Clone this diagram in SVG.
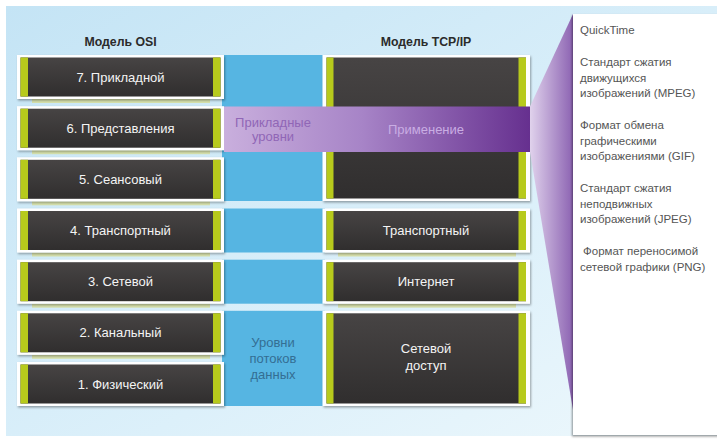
<svg xmlns="http://www.w3.org/2000/svg" width="717" height="441" viewBox="0 0 717 441">
<defs>
  <linearGradient id="bg" x1="0" y1="0" x2="1" y2="1">
    <stop offset="0" stop-color="#c4e4f5"/>
    <stop offset="0.6" stop-color="#dcf0fa"/>
    <stop offset="1" stop-color="#eef8fc"/>
  </linearGradient>
  <linearGradient id="dark" x1="0" y1="0" x2="0" y2="1">
    <stop offset="0" stop-color="#474444"/>
    <stop offset="1" stop-color="#302e2e"/>
  </linearGradient>
  <linearGradient id="band" gradientUnits="userSpaceOnUse" x1="224" y1="0" x2="530" y2="0">
    <stop offset="0" stop-color="#c9afdd"/>
    <stop offset="0.45" stop-color="#a784c7"/>
    <stop offset="1" stop-color="#66308f"/>
  </linearGradient>
  <linearGradient id="wedge" gradientUnits="userSpaceOnUse" x1="530" y1="0" x2="573" y2="0">
    <stop offset="0" stop-color="#e0d2ec"/>
    <stop offset="1" stop-color="#8c63b2"/>
  </linearGradient>
  <filter id="sh" x="-5%" y="-10%" width="112%" height="130%">
    <feDropShadow dx="1" dy="1.5" stdDeviation="1" flood-color="#000" flood-opacity="0.35"/>
  </filter>
  <filter id="psh" x="-10%" y="-5%" width="120%" height="110%">
    <feDropShadow dx="-1" dy="1.5" stdDeviation="1" flood-color="#000" flood-opacity="0.4"/>
  </filter>
</defs>
<style>
  .frame { fill: #ffffff; filter: url(#sh); }
  .inner { fill: url(#dark); }
  .bar { fill: #b7ca1c; }
  .under { fill: #d9e09a; opacity: 0.8; }
  .blue { fill: #56b5e2; }
  .lbl { font-family: "Liberation Sans", Arial, sans-serif; font-size: 13px; fill: #f4f4f4; text-anchor: middle; }
  .hdr { font-family: "Liberation Sans", Arial, sans-serif; font-size: 12.3px; font-weight: bold; fill: #2b2b2b; text-anchor: middle; }
  .mid { font-family: "Liberation Sans", Arial, sans-serif; font-size: 13px; text-anchor: middle; }
  .ptxt { font-family: "Liberation Sans", Arial, sans-serif; font-size: 11.5px; fill: #555555; }
</style>

<rect x="0" y="0" width="717" height="441" fill="#ffffff"/>
<rect x="6" y="6" width="711" height="430" fill="url(#bg)"/>

<!-- blue middle column -->
<g id="blue-column">
  <rect class="blue" x="222" y="55" width="103" height="146"/>
  <rect class="blue" x="222" y="208.5" width="103" height="44"/>
  <rect class="blue" x="222" y="259.7" width="103" height="44"/>
  <rect class="blue" x="222" y="310.8" width="103" height="95.2"/>
</g>

<text class="hdr" x="120.5" y="46">Модель OSI</text>
<text class="hdr" x="426" y="46">Модель TCP/IP</text>

<!-- OSI layers -->
<g id="osi7">
  <rect class="under" x="32" y="99" width="178" height="4"/>
  <rect class="frame" x="17" y="55" width="207" height="44"/>
  <rect class="inner" x="20.5" y="57.5" width="200" height="39"/>
  <rect class="bar" x="20.5" y="57.5" width="7.5" height="39"/>
  <rect class="bar" x="213" y="57.5" width="7.5" height="39"/>
  <text class="lbl" x="120.5" y="81.5">7. Прикладной</text>
</g>
<g id="osi6">
  <rect class="under" x="32" y="150.2" width="178" height="4"/>
  <rect class="frame" x="17" y="106.2" width="207" height="44"/>
  <rect class="inner" x="20.5" y="108.7" width="200" height="39"/>
  <rect class="bar" x="20.5" y="108.7" width="7.5" height="39"/>
  <rect class="bar" x="213" y="108.7" width="7.5" height="39"/>
  <text class="lbl" x="120.5" y="132.7">6. Представления</text>
</g>
<g id="osi5">
  <rect class="under" x="32" y="201.3" width="178" height="4"/>
  <rect class="frame" x="17" y="157.3" width="207" height="44"/>
  <rect class="inner" x="20.5" y="159.8" width="200" height="39"/>
  <rect class="bar" x="20.5" y="159.8" width="7.5" height="39"/>
  <rect class="bar" x="213" y="159.8" width="7.5" height="39"/>
  <text class="lbl" x="120.5" y="183.8">5. Сеансовый</text>
</g>
<g id="osi4">
  <rect class="under" x="32" y="252.5" width="178" height="4"/>
  <rect class="frame" x="17" y="208.5" width="207" height="44"/>
  <rect class="inner" x="20.5" y="211" width="200" height="39"/>
  <rect class="bar" x="20.5" y="211" width="7.5" height="39"/>
  <rect class="bar" x="213" y="211" width="7.5" height="39"/>
  <text class="lbl" x="120.5" y="235">4. Транспортный</text>
</g>
<g id="osi3">
  <rect class="under" x="32" y="303.7" width="178" height="4"/>
  <rect class="frame" x="17" y="259.7" width="207" height="44"/>
  <rect class="inner" x="20.5" y="262.2" width="200" height="39"/>
  <rect class="bar" x="20.5" y="262.2" width="7.5" height="39"/>
  <rect class="bar" x="213" y="262.2" width="7.5" height="39"/>
  <text class="lbl" x="120.5" y="286.2">3. Сетевой</text>
</g>
<g id="osi2">
  <rect class="under" x="32" y="354.8" width="178" height="4"/>
  <rect class="frame" x="17" y="310.8" width="207" height="44"/>
  <rect class="inner" x="20.5" y="313.3" width="200" height="39"/>
  <rect class="bar" x="20.5" y="313.3" width="7.5" height="39"/>
  <rect class="bar" x="213" y="313.3" width="7.5" height="39"/>
  <text class="lbl" x="120.5" y="337.3">2. Канальный</text>
</g>
<g id="osi1">
  <rect class="frame" x="17" y="362" width="207" height="44"/>
  <rect class="inner" x="20.5" y="364.5" width="200" height="39"/>
  <rect class="bar" x="20.5" y="364.5" width="7.5" height="39"/>
  <rect class="bar" x="213" y="364.5" width="7.5" height="39"/>
  <text class="lbl" x="120.5" y="388.5">1. Физический</text>
</g>

<!-- TCP/IP layers -->
<g id="tcp-app">
  <rect class="frame" x="322.5" y="55" width="207.5" height="146"/>
  <rect class="inner" x="326.5" y="57.5" width="199.5" height="141"/>
  <rect class="bar" x="326.5" y="57.5" width="7" height="141"/>
  <rect class="bar" x="518.5" y="57.5" width="7.5" height="141"/>
</g>
<g id="tcp-transport">
  <rect class="under" x="338" y="252.5" width="178" height="4"/>
  <rect class="frame" x="322.5" y="208.5" width="207.5" height="44"/>
  <rect class="inner" x="326.5" y="211" width="199.5" height="39"/>
  <rect class="bar" x="326.5" y="211" width="7" height="39"/>
  <rect class="bar" x="518.5" y="211" width="7.5" height="39"/>
  <text class="lbl" x="426" y="235">Транспортный</text>
</g>
<g id="tcp-internet">
  <rect class="under" x="338" y="303.7" width="178" height="4"/>
  <rect class="frame" x="322.5" y="259.7" width="207.5" height="44"/>
  <rect class="inner" x="326.5" y="262.2" width="199.5" height="39"/>
  <rect class="bar" x="326.5" y="262.2" width="7" height="39"/>
  <rect class="bar" x="518.5" y="262.2" width="7.5" height="39"/>
  <text class="lbl" x="426" y="286.2">Интернет</text>
</g>
<g id="tcp-access">
  <rect class="frame" x="322.5" y="310.8" width="207.5" height="95.2"/>
  <rect class="inner" x="326.5" y="313.3" width="199.5" height="90.2"/>
  <rect class="bar" x="326.5" y="313.3" width="7" height="90.2"/>
  <rect class="bar" x="518.5" y="313.3" width="7.5" height="90.2"/>
  <text class="lbl" x="426" y="353">Сетевой</text>
  <text class="lbl" x="426" y="370">доступ</text>
</g>

<!-- purple application band and wedge -->
<g id="connectors">
  <rect x="224" y="106.5" width="306" height="45.5" fill="url(#band)"/>
  <polygon points="530,106.5 573,14 573,410 530,152" fill="url(#wedge)"/>
</g>

<g id="label-app-levels">
  <text class="mid" x="273" y="126.5" fill="#9066b6">Прикладные</text>
  <text class="mid" x="273" y="141" fill="#9066b6">уровни</text>
</g>
<g id="label-application">
  <text class="mid" x="426" y="133.5" fill="#c9ade3">Применение</text>
</g>
<g id="label-data-levels">
  <text class="mid" x="273" y="346.5" fill="#346e93">Уровни</text>
  <text class="mid" x="273" y="362.5" fill="#346e93">потоков</text>
  <text class="mid" x="273" y="378.5" fill="#346e93">данных</text>
</g>

<!-- right panel -->
<g id="formats-panel">
  <rect x="573" y="14" width="150" height="421" fill="#ffffff" filter="url(#psh)"/>
  <text class="ptxt" x="580" y="34">QuickTime</text>
  <text class="ptxt" x="580" y="66">Стандарт сжатия</text>
  <text class="ptxt" x="580" y="81.5">движущихся</text>
  <text class="ptxt" x="580" y="97">изображений (MPEG)</text>
  <text class="ptxt" x="580" y="129">Формат обмена</text>
  <text class="ptxt" x="580" y="144.5">графическими</text>
  <text class="ptxt" x="580" y="160">изображениями (GIF)</text>
  <text class="ptxt" x="580" y="192">Стандарт сжатия</text>
  <text class="ptxt" x="580" y="207.5">неподвижных</text>
  <text class="ptxt" x="580" y="223">изображений (JPEG)</text>
  <text class="ptxt" x="583" y="255">Формат переносимой</text>
  <text class="ptxt" x="580" y="270.5">сетевой графики (PNG)</text>
</g>
</svg>
